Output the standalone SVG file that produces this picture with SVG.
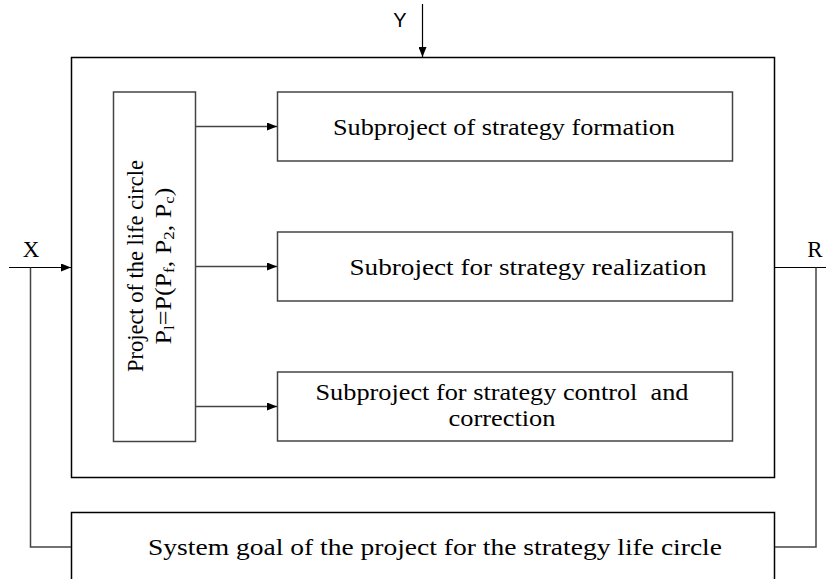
<svg xmlns="http://www.w3.org/2000/svg" width="826" height="579" viewBox="0 0 826 579">
<style>
.outer{fill:#fff;stroke:#000;stroke-width:1.5}
.box{fill:#fff;stroke:#444;stroke-width:1.5}
.ln{fill:none;stroke:#444;stroke-width:1.5}
.lb{fill:none;stroke:#000;stroke-width:1.2}
.t{font-family:"Liberation Serif","Times New Roman",serif;font-size:23px;fill:#000}
.s{font-family:"Liberation Sans",Arial,sans-serif;font-size:20px;fill:#000}
</style>
<defs>
<marker id="ah" markerWidth="10" markerHeight="8" refX="10" refY="4" orient="auto" markerUnits="userSpaceOnUse">
<path d="M0,0 L10,4 L0,8 Z" fill="#000"/>
</marker>
</defs>
<g id="outer"><rect class="outer" x="71.5" y="57.5" width="703" height="420"/></g>
<g id="goal">
<rect class="outer" x="71.5" y="512.5" width="703" height="80"/>
<text class="t" x="435" y="555" text-anchor="middle" textLength="574" lengthAdjust="spacingAndGlyphs">System goal of the project for the strategy life circle</text>
</g>
<g id="project">
<rect class="box" x="113.5" y="92" width="82" height="349.5"/>
<text class="t" transform="translate(143,266) rotate(-90)" text-anchor="middle" textLength="212" lengthAdjust="spacingAndGlyphs">Project of the life circle</text>
<text class="t" transform="translate(171,266) rotate(-90)" text-anchor="middle" textLength="157" lengthAdjust="spacingAndGlyphs">P<tspan font-size="15" dy="3">l</tspan><tspan dy="-3">=P(P</tspan><tspan font-size="15" dy="3">f</tspan><tspan dy="-3">, P</tspan><tspan font-size="15" dy="3">2</tspan><tspan dy="-3">, P</tspan><tspan font-size="15" dy="3">c</tspan><tspan dy="-3">)</tspan></text>
</g>
<g id="sub1">
<rect class="box" x="277.5" y="92" width="455" height="69"/>
<text class="t" x="504" y="135" text-anchor="middle" textLength="342" lengthAdjust="spacingAndGlyphs">Subproject of strategy formation</text>
</g>
<g id="sub2">
<rect class="box" x="277.5" y="232" width="455" height="69"/>
<text class="t" x="528" y="275" text-anchor="middle" textLength="357" lengthAdjust="spacingAndGlyphs">Subroject for strategy realization</text>
</g>
<g id="sub3">
<rect class="box" x="277.5" y="372" width="455" height="69"/>
<text class="t" x="502" y="400" text-anchor="middle" textLength="373" lengthAdjust="spacingAndGlyphs" xml:space="preserve">Subproject for strategy control  and</text>
<text class="t" x="502" y="426" text-anchor="middle" textLength="107" lengthAdjust="spacingAndGlyphs">correction</text>
</g>
<g id="labels">
<text class="s" x="400" y="27" text-anchor="middle">Y</text>
<text class="t" x="31" y="257" text-anchor="middle">X</text>
<text class="t" x="815" y="257" text-anchor="middle">R</text>
</g>
<g id="connectors">
<line class="lb" x1="422.5" y1="4" x2="422.5" y2="57" marker-end="url(#ah)"/>
<line class="lb" x1="9" y1="267.5" x2="71" y2="267.5" marker-end="url(#ah)"/>
<line class="ln" x1="195.5" y1="126.5" x2="277" y2="126.5" marker-end="url(#ah)"/>
<line class="ln" x1="195.5" y1="266.5" x2="277" y2="266.5" marker-end="url(#ah)"/>
<line class="ln" x1="195.5" y1="406.5" x2="277" y2="406.5" marker-end="url(#ah)"/>
<line class="lb" x1="774.5" y1="267.5" x2="826" y2="267.5"/>
<polyline class="ln" points="30.5,267.5 30.5,547 71,547"/>
<polyline class="ln" points="816,267.5 816,547 775,547"/>
</g>
</svg>
